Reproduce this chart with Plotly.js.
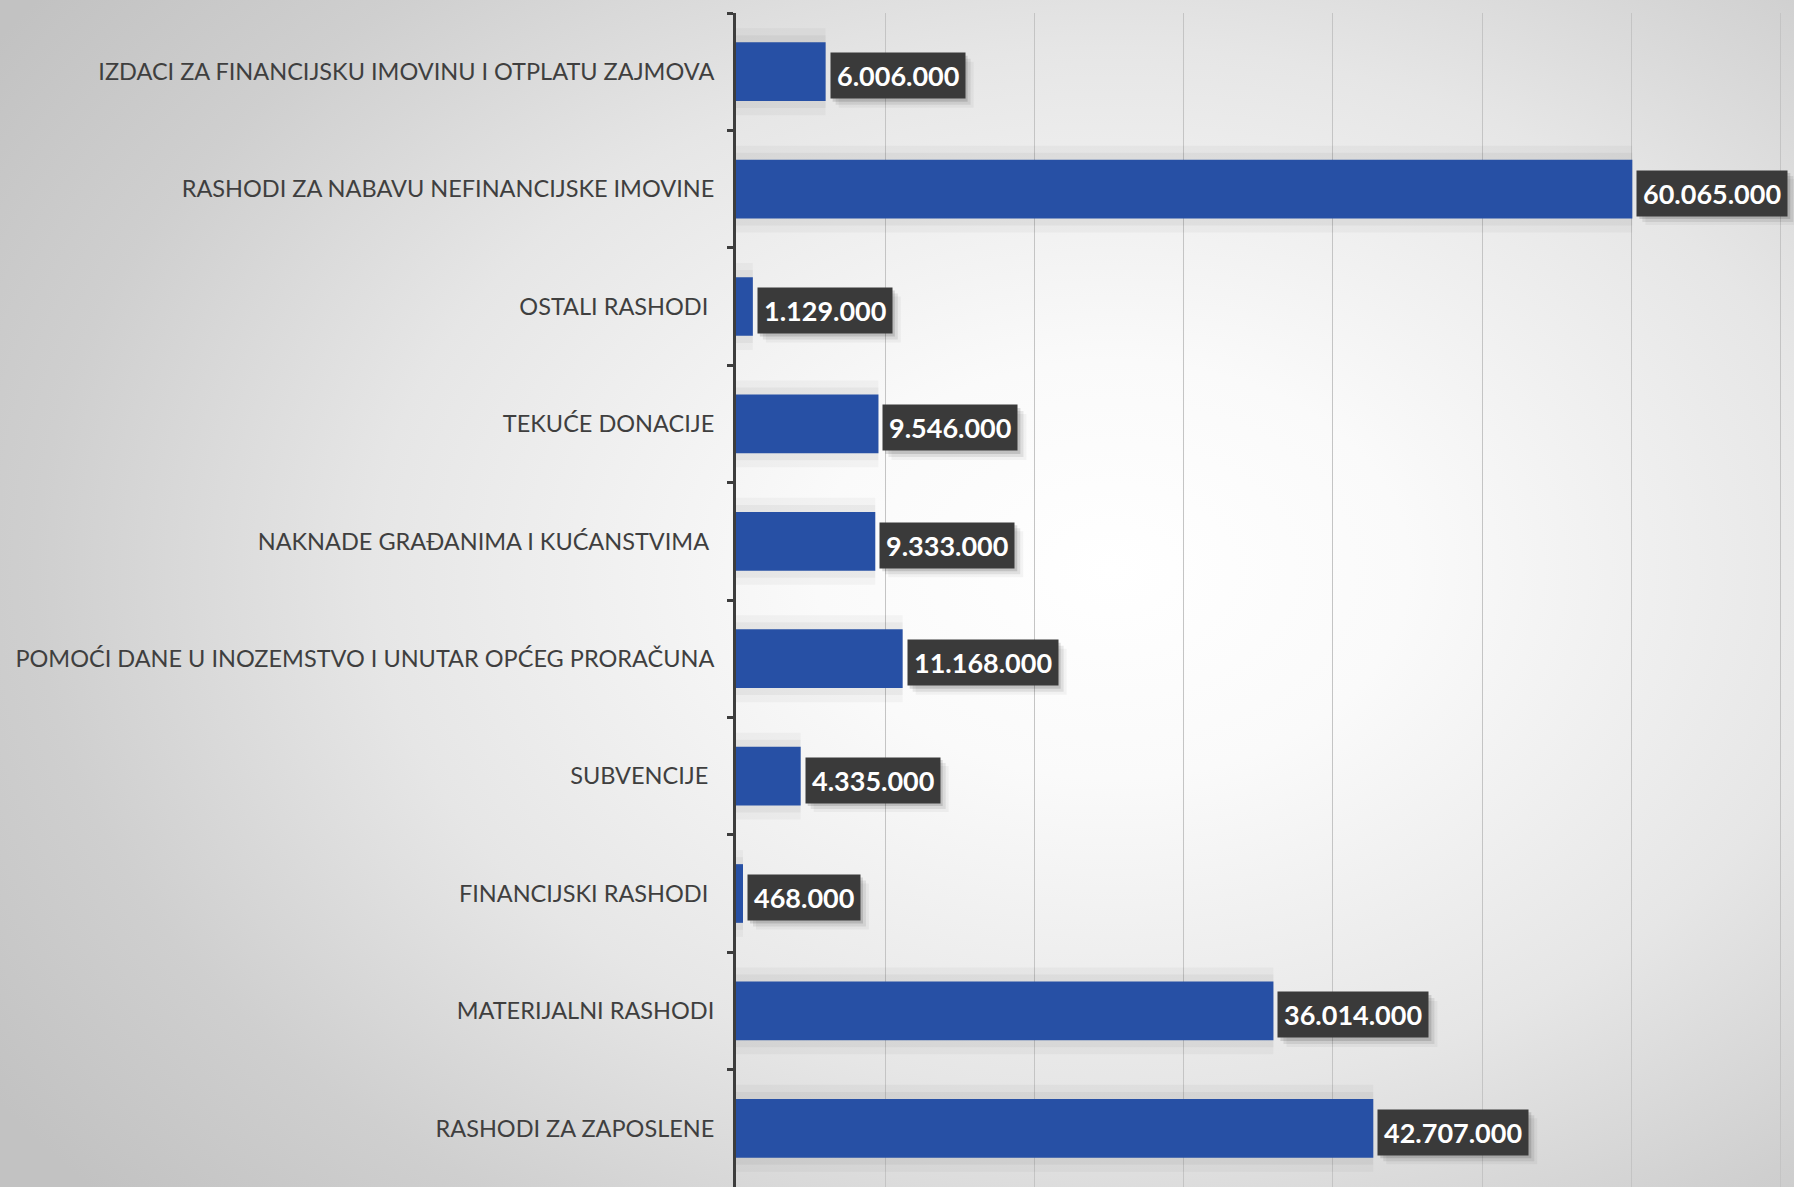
<!DOCTYPE html>
<html>
<head>
<meta charset="utf-8">
<script src="https://cdn.plot.ly/plotly-3.0.1.min.js"></script>
<style>
html,body{margin:0;padding:0;width:1794px;height:1187px;overflow:hidden;}
body{background:radial-gradient(ellipse 75% 80% at 62% 48%, #ffffff 0%, #fafafa 22%, #e6e6e6 55%, #cfcfcf 80%, #c2c2c2 100%);}
#chart{width:1794px;height:1187px;}
</style>
</head>
<body>
<div id="chart"></div>
<script>
const categories = [
  "IZDACI ZA FINANCIJSKU IMOVINU I OTPLATU ZAJMOVA",
  "RASHODI ZA NABAVU NEFINANCIJSKE IMOVINE",
  "OSTALI RASHODI\u00a0",
  "TEKUĆE DONACIJE",
  "NAKNADE GRAĐANIMA I KUĆANSTVIMA\u00a0",
  "POMOĆI DANE U INOZEMSTVO I UNUTAR OPĆEG PRORAČUNA",
  "SUBVENCIJE\u00a0",
  "FINANCIJSKI RASHODI\u00a0",
  "MATERIJALNI RASHODI",
  "RASHODI ZA ZAPOSLENE"
];
const values = [6006000, 60065000, 1129000, 9546000, 9333000, 11168000, 4335000, 468000, 36014000, 42707000];

function fmt(v){ return String(v).replace(/\B(?=(\d{3})+(?!\d))/g, "."); }

const shadow1 = {type:'bar', orientation:'h', y:categories, x:values, width:0.74,
  marker:{color:'rgba(0,0,0,0.03)'}, hoverinfo:'skip', showlegend:false};
const shadow2 = {type:'bar', orientation:'h', y:categories, x:values, width:0.62,
  marker:{color:'rgba(0,0,0,0.04)'}, hoverinfo:'skip', showlegend:false};
const bars = {type:'bar', orientation:'h', y:categories, x:values, width:0.5,
  marker:{color:'#2750a5'}, showlegend:false};

const LX = 4, LY = 4;
const annotations = values.map((v,i)=>({x:v, y:categories[i], xref:'x', yref:'y', xanchor:'left', yanchor:'middle',
    xshift:LX, yshift:-LY, text:fmt(v), showarrow:false,
    font:{family:'Lato', size:27, color:'#ffffff', weight:'bold'},
    bgcolor:'#3a3a3a', borderpad:6}));

const layout = {
  width:1794, height:1187,
  margin:{l:736, r:0, t:13, b:0, pad:0},
  paper_bgcolor:'rgba(0,0,0,0)', plot_bgcolor:'rgba(0,0,0,0)',
  barmode:'overlay',
  xaxis:{range:[0,70900000], dtick:10000000, showticklabels:false, showgrid:true,
    gridcolor:'#c4c4c4', gridwidth:1, zeroline:false, showline:false, ticks:''},
  yaxis:{type:'category', autorange:'reversed', showline:true, linecolor:'#3d3d3d', linewidth:3,
    ticks:'outside', tickson:'boundaries', ticklen:6, tickwidth:3, tickcolor:'#3d3d3d',
    ticklabelstandoff:14, showgrid:false,
    tickfont:{family:'Lato', size:23.5, color:'#3f3f3f'}},
  annotations:annotations,
  shapes:[]
};

Plotly.newPlot('chart', [shadow1, shadow2, bars], layout, {displayModeBar:false, staticPlot:true}).then(gd=>{
  const rects = gd.querySelectorAll('.annotation .bg');
  const shapes = [];
  rects.forEach((r,i)=>{
    if (i >= values.length) return;
    const bb = r.getBBox();
    const w = bb.width, h = bb.height;
    [[3,0.13],[6,0.08],[9,0.04]].forEach(([off,a])=>{
      shapes.push({type:'rect', layer:'above', xref:'x', yref:'y', xsizemode:'pixel', ysizemode:'pixel',
        xanchor:values[i], yanchor:categories[i],
        x0:LX+off, x1:LX+w+off, y0:-LY-h/2-off, y1:-LY+h/2-off,
        fillcolor:'rgba(0,0,0,'+a+')', line:{width:0}});
    });
  });
  return Plotly.relayout(gd, {shapes:shapes});
});
</script>
</body>
</html>
